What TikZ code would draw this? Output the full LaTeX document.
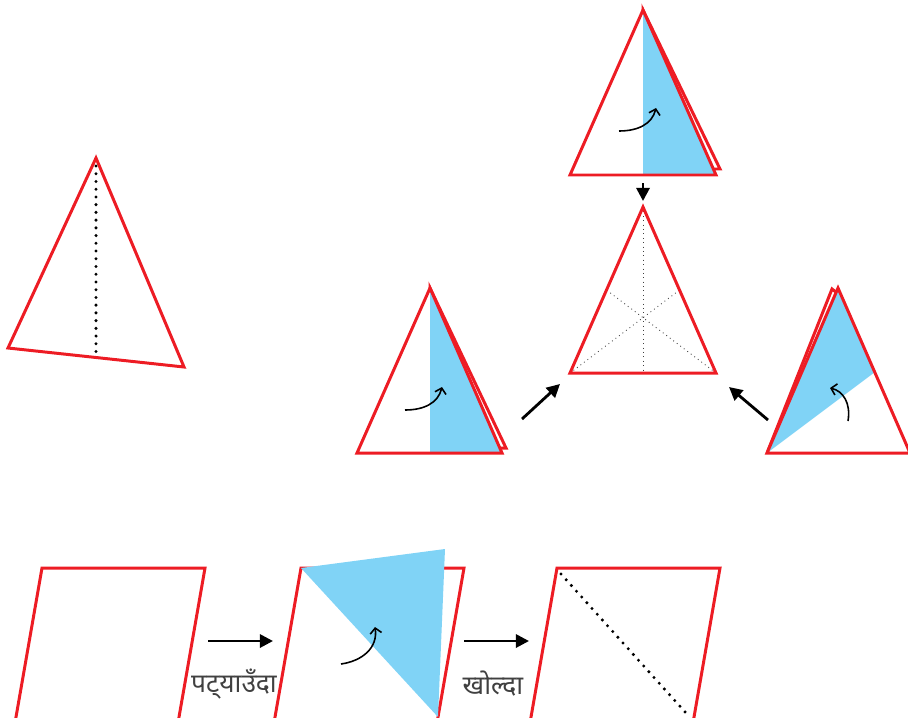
\documentclass[tikz,border=0pt]{standalone}
\usepackage{fontspec}
\newfontfamily\devfont[Script=Devanagari]{Noto Sans}
\usetikzlibrary{arrows.meta}
\definecolor{foldred}{HTML}{ED1C24}
\definecolor{foldblue}{HTML}{80D3F6}
\definecolor{labelgray}{HTML}{404040}
\tikzset{
  paper/.style={draw=foldred,line width=1.7pt,line join=miter},
  backpaper/.style={paper,fill=white},
  flap/.style={fill=foldblue},
  crease/.style={line width=1.9pt,line cap=round,dash pattern=on 0pt off 4.4pt},
  thincrease/.style={line width=0.5pt,dotted,black!75},
  foldarrow/.style={line width=0.9pt,-{Straight Barb[length=3pt,width=6.5pt]}},
  steparrow/.style={line width=1.6pt,-{Triangle[length=7.5pt,width=7.5pt]}},
  steplabel/.style={font=\devfont\fontsize{15}{18}\selectfont,text=labelgray,inner sep=0pt}
}
\begin{document}
\begin{tikzpicture}[x=0.02cm,y=-0.02cm]
  \useasboundingbox (0,0) rectangle (908,717);
  \clip (0,0) rectangle (908,717);
  % first triangle with crease
  \draw[paper] (96,158) -- (184,367) -- (8,348) -- cycle;
  \draw[crease] (96,166) -- (96,357);
  % top step
  \draw[backpaper] (643,10) -- (720,169) -- (643,169) -- cycle;
  \fill[white] (643,10) -- (716,175) -- (570,175) -- cycle;
  \fill[flap] (643,10) -- (716,175) -- (643,175) -- cycle;
  \draw[paper] (643,10) -- (716,175) -- (570,175) -- cycle;
  \draw[foldarrow] (619,131) .. controls (638,131) and (652,124) .. (656,108);
  \coordinate (t1) at (643,183);
  \coordinate (t2) at (643,201);
  \draw[steparrow] (t1) -- (t2);
  % centre triangle
  \draw[thincrease] (643,207) -- (643,373);
  \draw[thincrease] (570,373) -- (679.5,290);
  \draw[thincrease] (716,373) -- (606.5,290);
  \draw[paper] (643,207) -- (716,373) -- (570,373) -- cycle;
  % left step
  \draw[backpaper] (430,288) -- (506,448) -- (430,448) -- cycle;
  \fill[white] (430,288) -- (502,453) -- (357,453) -- cycle;
  \fill[flap] (430,288) -- (502,453) -- (430,453) -- cycle;
  \draw[paper] (430,288) -- (502,453) -- (357,453) -- cycle;
  \draw[foldarrow] (405,410) .. controls (424,410) and (438,403) .. (442,387);
  \coordinate (l1) at (522,419);
  \coordinate (l2) at (560,384);
  \draw[steparrow] (l1) -- (l2);
  % right step
  \draw[backpaper] (832,289) -- (767,453) -- (841,296) -- cycle;
  \fill[white] (838,288) -- (910,453) -- (767,453) -- cycle;
  \fill[flap] (838,288) -- (875,372) -- (767,453) -- cycle;
  \draw[paper] (838,288) -- (910,453) -- (767,453) -- cycle;
  \draw[foldarrow] (848,421) .. controls (851,403) and (843,391) .. (830,388);
  \coordinate (r1) at (768,420);
  \coordinate (r2) at (729,387);
  \draw[steparrow] (r1) -- (r2);
  % bottom row
  \foreach \x in {42,301,557}
  {\draw[paper] (\x,568) -- (\x+163,568) -- (\x+133,740) -- (\x-30,740) -- cycle;}
  \fill[flap] (301,568) -- (445,549) -- (438,717) -- cycle;
  \draw[foldarrow] (341,664) .. controls (362,661) and (378,648) .. (375,627);
  \draw[crease] (561,574) -- (686,713);
  \coordinate (b1) at (208,641);
  \coordinate (b2) at (273,641);
  \coordinate (b3) at (464,641);
  \coordinate (b4) at (529,641);
  \draw[steparrow] (b1) -- (b2);
  \draw[steparrow] (b3) -- (b4);
  \node[steplabel] (fold) at (234,684) {पट्^^^^200cयाउँदा};
  \node[steplabel] (open) at (493,684) {खोल्दा};
\end{tikzpicture}
\end{document}
